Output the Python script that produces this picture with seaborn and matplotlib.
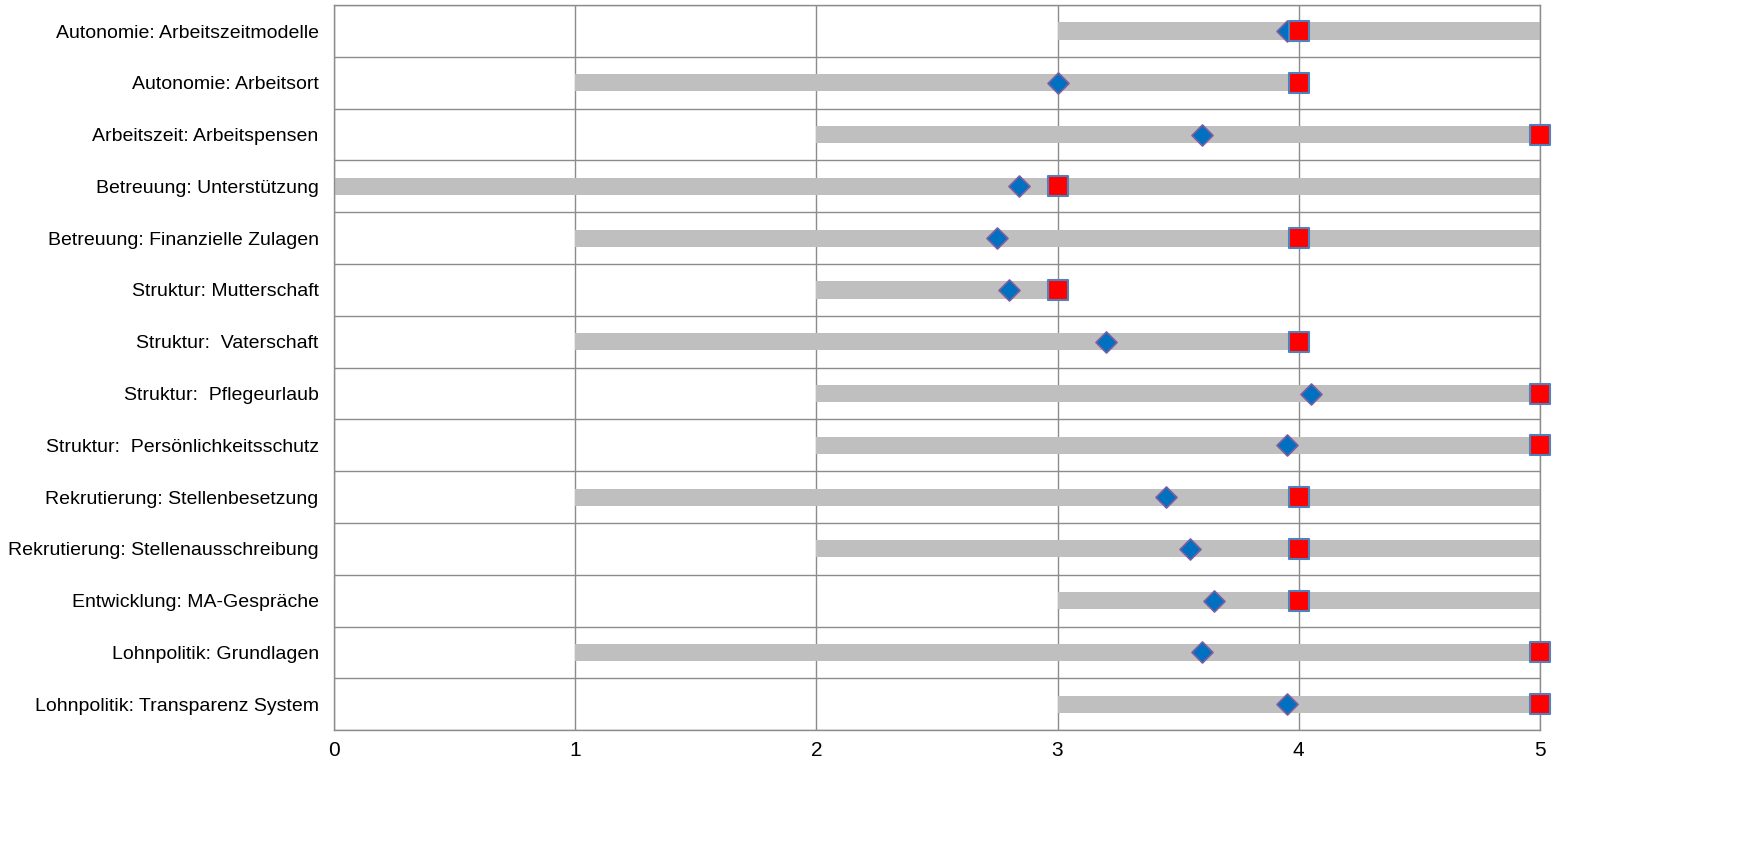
import numpy as np
import pandas as pd
import matplotlib
matplotlib.use("Agg")
import matplotlib.pyplot as plt
import seaborn as sns

# Daten (von oben nach unten)
kategorien = [
    "Autonomie: Arbeitszeitmodelle",
    "Autonomie: Arbeitsort",
    "Arbeitszeit: Arbeitspensen",
    "Betreuung: Unterstützung",
    "Betreuung: Finanzielle Zulagen",
    "Struktur: Mutterschaft",
    "Struktur:  Vaterschaft",
    "Struktur:  Pflegeurlaub",
    "Struktur:  Persönlichkeitsschutz",
    "Rekrutierung: Stellenbesetzung",
    "Rekrutierung: Stellenausschreibung",
    "Entwicklung: MA-Gespräche",
    "Lohnpolitik: Grundlagen",
    "Lohnpolitik: Transparenz System",
]
minimum = [3, 1, 2, 0, 1, 2, 1, 2, 2, 1, 2, 3, 1, 3]
maximum = [5, 4, 5, 5, 5, 3, 4, 5, 5, 5, 5, 5, 5, 5]
mittelwert = [3.95, 3.0, 3.6, 2.84, 2.75, 2.8, 3.2, 4.05, 3.95, 3.45, 3.55, 3.65, 3.6, 3.95]
eigener_wert = [4, 4, 5, 3, 4, 3, 4, 5, 5, 4, 4, 4, 5, 5]

df = pd.DataFrame({
    "kategorie": kategorien,
    "pos": np.arange(len(kategorien)),
    "min": minimum,
    "max": maximum,
    "mittel": mittelwert,
    "eigen": eigener_wert,
})

sns.set_style("white")
plt.rcParams["font.family"] = ["Liberation Sans", "DejaVu Sans"]

fig = plt.figure(figsize=(17.64, 8.55), dpi=100)
ax = fig.add_axes([0.1893, 0.146, 0.6837, 0.848])

# Spannweite als graue Balken
ax.barh(df["pos"], df["max"] - df["min"], left=df["min"], height=0.33,
        color="#BFBFBF", edgecolor="none", linewidth=0, zorder=2)

# Mittelwert (Raute) und eigener Wert (Quadrat)
sns.scatterplot(data=df, x="mittel", y="pos", marker="D", s=115,
                color="#0070C0", edgecolor="#7F5F9F", linewidth=1.2,
                zorder=3, ax=ax, legend=False, clip_on=False)
sns.scatterplot(data=df, x="eigen", y="pos", marker="s", s=195,
                color="#FF0000", edgecolor="#4F81BD", linewidth=1.5,
                zorder=4, ax=ax, legend=False, clip_on=False)

ax.set_xlim(0, 5)
ax.set_ylim(len(kategorien) - 0.5, -0.5)
ax.set_xticks(range(6))
ax.set_yticks(df["pos"])
ax.set_yticklabels(kategorien, fontsize=14)
ax.set_yticks(np.arange(len(kategorien) + 1) - 0.5, minor=True)
ax.tick_params(axis="x", labelsize=15, length=0, pad=8, labelcolor="black")
ax.tick_params(axis="y", which="both", length=0, pad=11, labelcolor="black")

ax.grid(axis="x", which="major", color="#8C8C8C", linewidth=1.0, zorder=0)
ax.grid(axis="y", which="minor", color="#8C8C8C", linewidth=1.0, zorder=0)
ax.set_axisbelow(True)
for s in ax.spines.values():
    s.set_color("#8C8C8C")
    s.set_linewidth(1.0)
ax.set_xlabel("")
ax.set_ylabel("")

fig.savefig("out.png", dpi=100)
